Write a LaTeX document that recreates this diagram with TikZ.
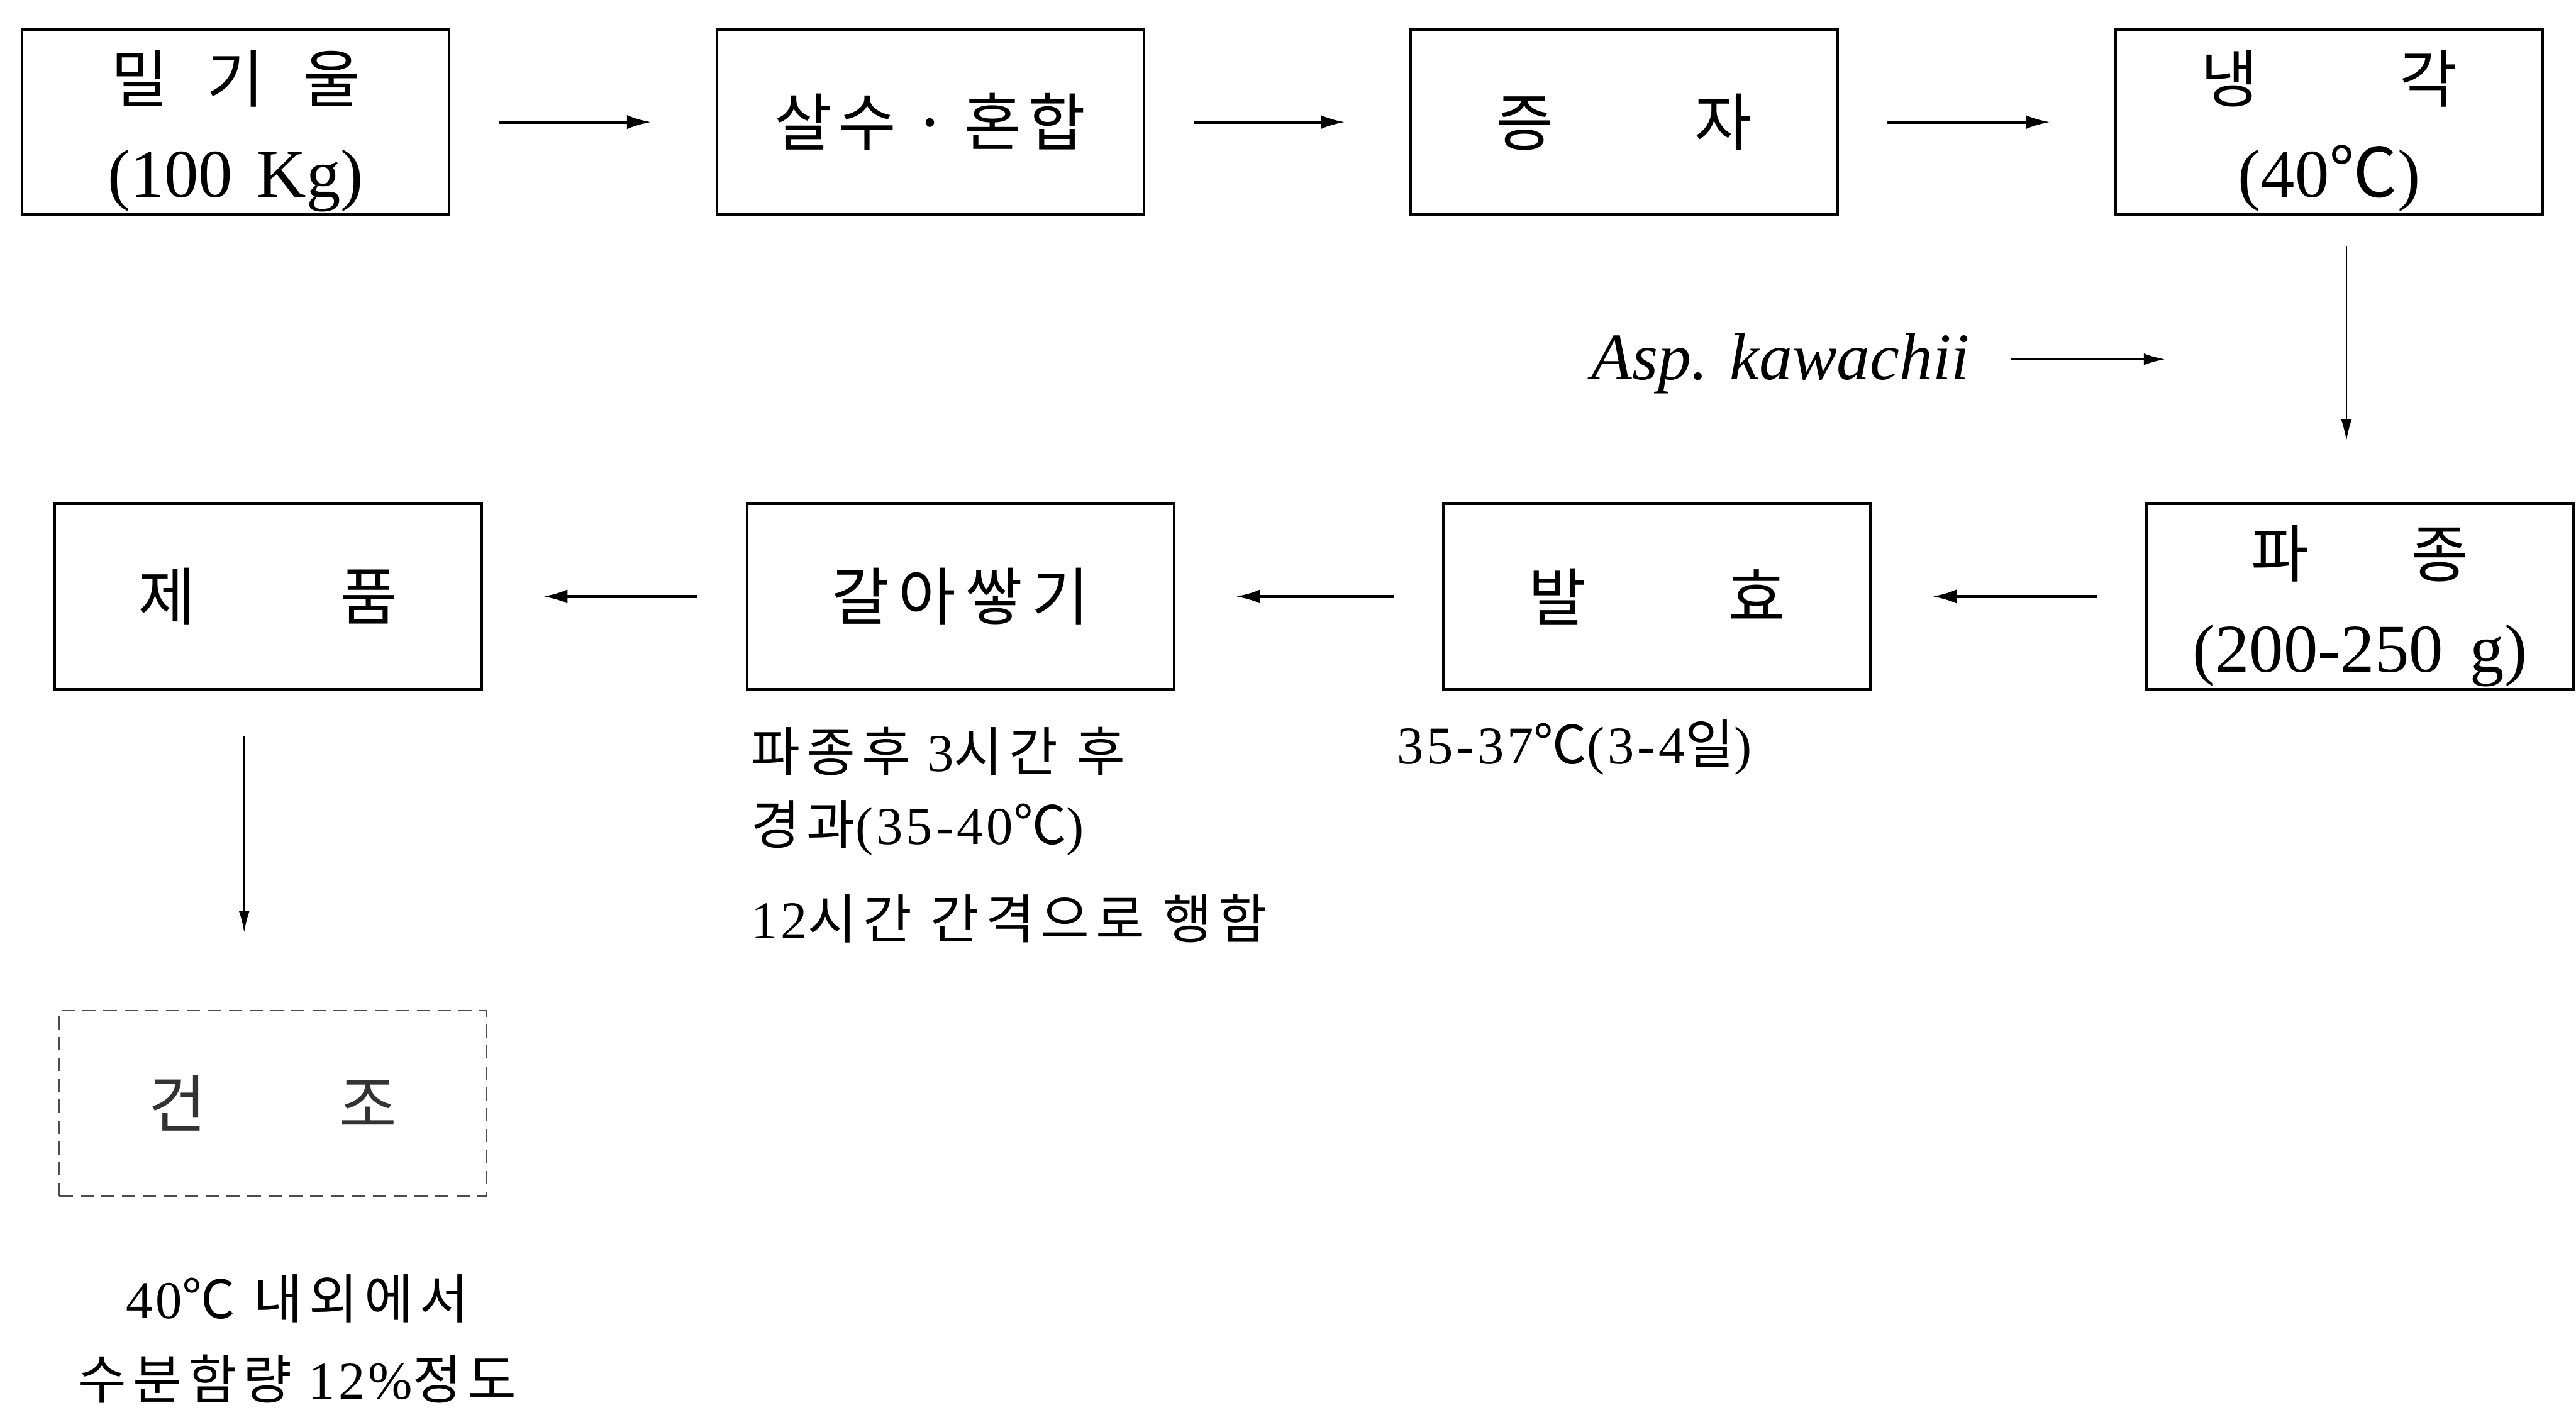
\documentclass[tikz,border=0pt]{standalone}
\usepackage{fontspec}
\setmainfont{Liberation Serif}
\newfontfamily\kr{Noto Sans CJK KR}
\newfontfamily\nkr[LetterSpace=12]{Noto Sans CJK KR}
\newfontfamily\nlat[LetterSpace=6]{Liberation Serif}
\usetikzlibrary{arrows.meta,calc}
\tikzset{
  procbox/.style={draw, line width=1.4pt, minimum width=7.9cm, minimum height=3.43cm,
    inner sep=0pt, align=center, font=\fontsize{33}{50}\selectfont},
  drybox/.style={procbox, draw=black!70, line width=0.9pt, dash pattern=on 7pt off 4pt},
  flow/.style={line width=1.6pt, -{Latex[length=0.45cm,width=0.26cm]}},
  vflow/.style={line width=0.9pt, -{Latex[length=0.4cm,width=0.2cm]}},
  note/.style={inner sep=0pt, font=\fontsize{28}{45.5}\nlat},
}
\newcommand{\lt}[1]{{\fontsize{36}{50}\selectfont #1}}
\newcommand{\tallrow}{\rule{0pt}{1.3cm}}
\begin{document}
\begin{tikzpicture}
\useasboundingbox (0,0) rectangle (47.68,-26.09);
% top row
\node[procbox] (b1) at (4.36,-2.26) {\tallrow{\kr 밀\hspace{0.71cm}기\hspace{0.71cm}울}\\\lt{(100\hspace{0.45cm}Kg)}};
\node[procbox] (b2) at (17.22,-2.26) {{\kr 살\hspace{0.12cm}수\hspace{0.3cm}·\hspace{0.3cm}혼\hspace{0.12cm}합}};
\node[procbox] (b3) at (30.06,-2.26) {{\kr 증\hspace{2.61cm}자}};
\node[procbox] (b4) at (43.11,-2.26) {\tallrow{\kr 냉\hspace{2.62cm}각}\\\lt{(40{\kr ℃})}};
% second row
\node[procbox] (b5) at (43.68,-11.04) {\tallrow{\kr 파\hspace{1.89cm}종}\\\lt{(200-250\hspace{0.5cm}g)}};
\node[procbox] (b6) at (30.67,-11.04) {{\kr 발\hspace{2.62cm}효}};
\node[procbox] (b7) at (17.78,-11.04) {{\kr 갈\hspace{0.17cm}아\hspace{0.17cm}쌓\hspace{0.17cm}기}};
\node[procbox] (b8) at (4.96,-11.04) {{\kr 제\hspace{2.67cm}품}};
% third row
\node[drybox, text=black!80] (b9) at (5.05,-20.42) {{\kr 건\hspace{2.45cm}조}};

% horizontal flows
\draw[flow, shorten <=0.9cm, shorten >=1.19cm] (b1.east) -- (b2.west);
\draw[flow, shorten <=0.9cm, shorten >=1.19cm] (b2.east) -- (b3.west);
\draw[flow, shorten <=0.9cm, shorten >=1.19cm] (b3.east) -- (b4.west);
\draw[flow, shorten <=0.9cm, shorten >=1.12cm] (b5.west) -- (b6.east);
\draw[flow, shorten <=0.9cm, shorten >=1.12cm] (b6.west) -- (b7.east);
\draw[flow, shorten <=0.9cm, shorten >=1.12cm] (b7.west) -- (b8.east);

% vertical flows
\coordinate (vx1) at (43.43,0);
\coordinate (vx2) at (4.52,0);
\draw[vflow, shorten <=0.55cm, shorten >=1.14cm] (b4.south -| vx1) -- (b5.north -| vx1);
\draw[vflow, shorten <=0.84cm, shorten >=1.43cm] (b8.south -| vx2) -- (b9.north -| vx2);

% inoculum
\node[inner sep=0pt, anchor=base west, font=\fontsize{35}{40}\selectfont\itshape] (asp) at (29.45,-7.03) {Asp. kawachii};
\coordinate (aspend) at (40.08,-6.65);
\draw[line width=1.4pt, -{Latex[length=0.4cm,width=0.22cm]}] (aspend -| asp.east) ++(0.75,0) -- (aspend);

% notes
\node[note, anchor=north west, align=left] (n7) at (13.90,-13.45)
  {{\nkr 파종후} 3{\nkr 시간\ 후}\\[-0.25cm]{\nkr 경과}(35-40{\nkr ℃})\\[0.15cm]12{\nkr 시간 간격으로 행함}};
\node[note, anchor=base west] (n6) at (25.85,-14.14) {35-37{\nkr ℃}(3-4{\nkr 일})};
\node[note, anchor=north, align=center, font=\fontsize{28}{42.5}\nlat] (n9) at (5.50,-23.58)
  {40{\nkr ℃ 내외에서}\\{\nkr 수분함량} 12\%{\nkr 정도}};
\end{tikzpicture}
\end{document}
